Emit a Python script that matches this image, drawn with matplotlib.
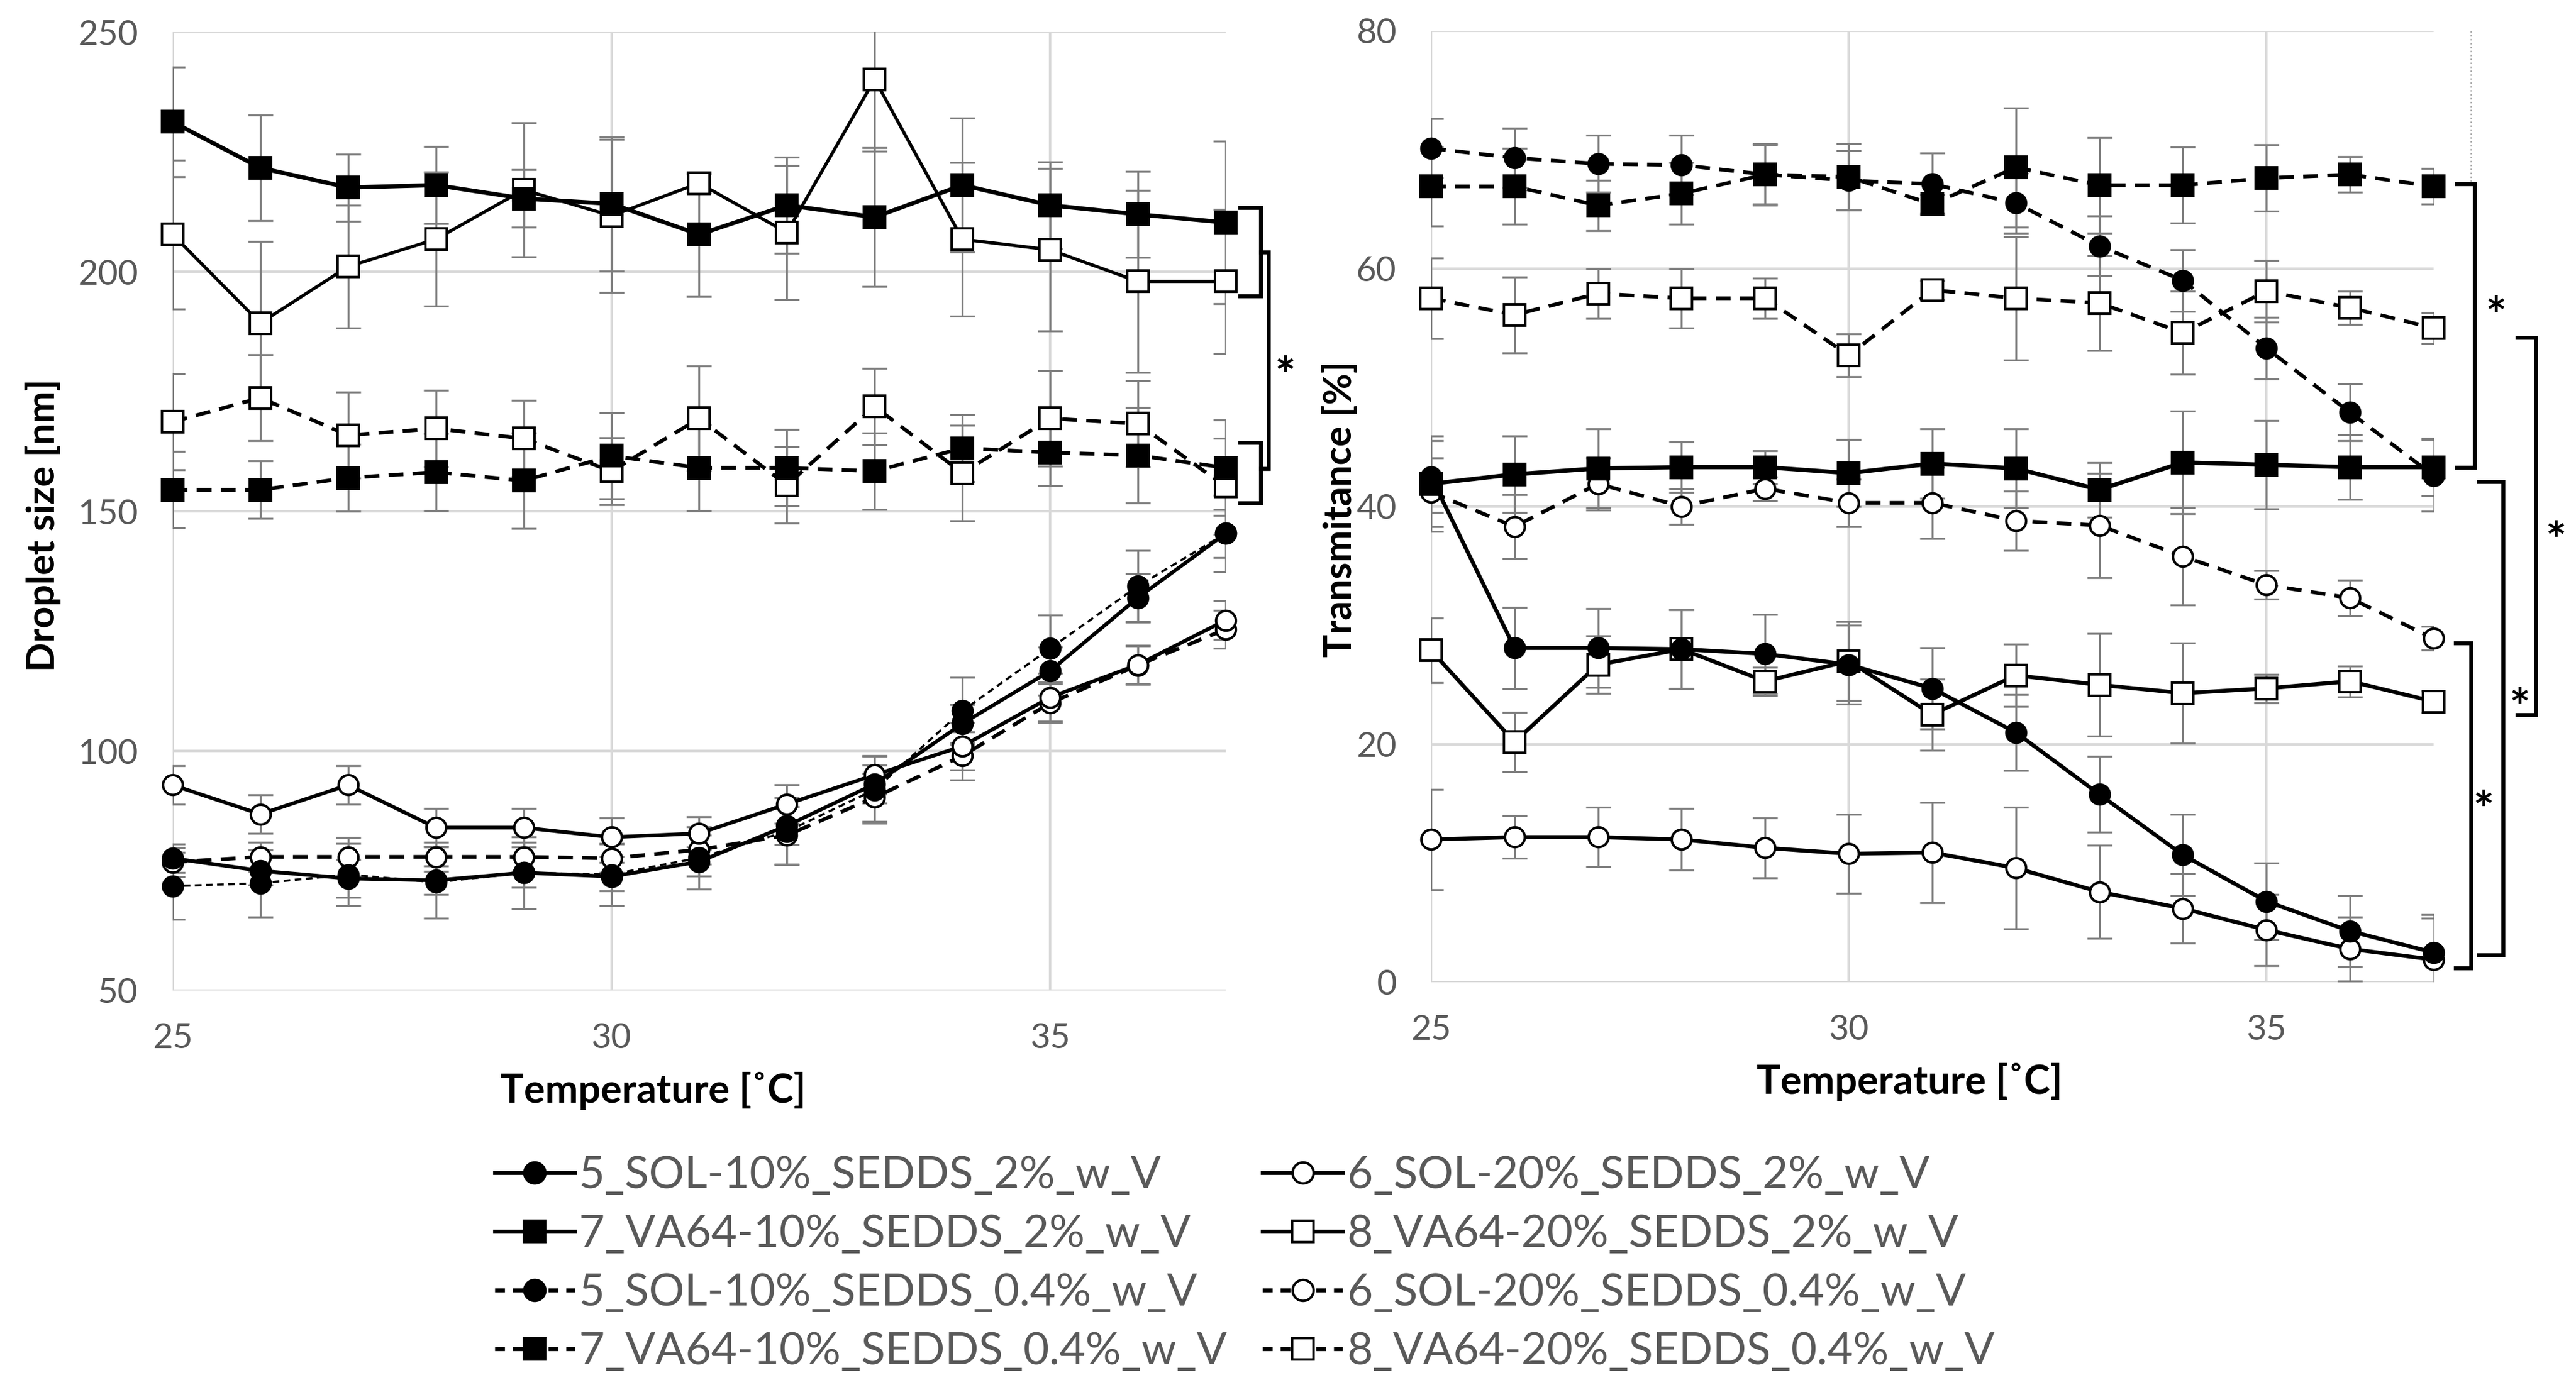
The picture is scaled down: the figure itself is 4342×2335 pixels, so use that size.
import matplotlib
matplotlib.use("Agg")
import matplotlib.pyplot as plt
from matplotlib.lines import Line2D

plt.rcParams['font.family'] = ['Lato', 'DejaVu Sans']

# Data
temps = list(range(25, 38))

# Droplet size [nm]
size_5_2 = [77.6, 75.0, 73.4, 73.0, 74.6, 73.8, 76.9, 84.4, 93.1, 105.7, 116.7, 132.0, 145.4]
size_5_2_err = [3, 3, 4, 3, 3, 3, 3, 4, 4, 4, 5, 5, 5]
size_6_2 = [92.9, 86.8, 92.9, 84.0, 84.0, 82.0, 82.8, 88.9, 95.0, 101.0, 111.2, 118.0, 127.3]
size_6_2_err = [4, 4, 4, 4, 4, 4, 3.5, 4, 4, 5, 5, 4, 4]
size_7_2 = [231.3, 221.7, 217.6, 218.1, 215.3, 214.2, 207.8, 213.9, 211.4, 218.1, 213.9, 212.0, 210.3]
size_7_2_err = [11.5, 11, 7, 8, 6, 14, 13, 10, 14.5, 14, 9, 9, 17]
size_8_2 = [207.8, 189.3, 201.1, 206.8, 217.1, 211.7, 218.5, 208.2, 240.2, 206.8, 204.6, 198.0, 198.0]
size_8_2_err = [15.5, 17, 12.8, 14, 14, 16, 2, 14, 15, 16, 17, 19, 15]
size_5_04 = [71.8, 72.4, 74.2, 72.6, 74.6, 74.2, 77.7, 83.2, 91.9, 108.4, 121.4, 134.4, 145.4]
size_5_04_err = [7, 7, 6.5, 7.5, 7.5, 6.5, 6.5, 7, 7, 7, 7, 7.5, 8]
size_6_04 = [76.8, 77.9, 77.9, 77.9, 77.9, 77.6, 79.4, 82.4, 90.3, 99.0, 110.0, 117.9, 125.4]
size_6_04_err = [3, 3, 4, 3, 3, 3, 3, 6, 5, 5, 4, 4, 4]
size_7_04 = [154.5, 154.5, 157.0, 158.2, 156.4, 161.6, 159.1, 159.1, 158.4, 163.2, 162.3, 161.7, 159.1]
size_7_04_err = [8, 6, 7, 8, 10, 9, 9, 8, 8, 7, 7, 10, 10]
size_8_04 = [168.7, 173.7, 165.9, 167.3, 165.2, 158.4, 169.4, 155.5, 171.9, 158.0, 169.4, 168.3, 155.2]
size_8_04_err = [10, 9, 9, 8, 8, 7, 11, 8, 8, 10, 10, 9, 10]

# Transmitance [%]
trans_5_2 = [42.5, 28.1, 28.1, 28.0, 27.6, 26.7, 24.7, 21.0, 15.8, 10.7, 6.8, 4.3, 2.5]
trans_5_2_err = [3.0, 3.4, 3.3, 3.3, 3.3, 3.3, 3.4, 3.2, 3.2, 3.4, 3.2, 3.0, 3.2]
trans_6_2 = [12.0, 12.2, 12.2, 12.0, 11.3, 10.8, 10.9, 9.6, 7.6, 6.2, 4.4, 2.8, 1.9]
trans_6_2_err = [4.2, 1.8, 2.5, 2.6, 2.5, 3.3, 4.2, 5.1, 3.9, 2.9, 3.0, 2.7, 3.5]
trans_7_2 = [41.9, 42.7, 43.2, 43.3, 43.3, 42.8, 43.6, 43.2, 41.4, 43.7, 43.5, 43.3, 43.3]
trans_7_2_err = [4.0, 3.2, 3.3, 2.1, 1.4, 2.8, 2.9, 3.3, 2.3, 4.3, 3.7, 2.7, 2.4]
trans_8_2 = [27.9, 20.2, 26.7, 28.0, 25.3, 27.0, 22.5, 25.8, 25.0, 24.3, 24.7, 25.3, 23.6]
trans_8_2_err = [2.7, 2.5, 2.4, 3.3, 1.2, 3.3, 3.0, 2.6, 4.3, 4.2, 1.2, 1.3, 0.9]
trans_5_04 = [70.1, 69.3, 68.8, 68.7, 67.9, 67.4, 67.1, 65.5, 61.9, 59.0, 53.3, 47.9, 42.6]
trans_5_04_err = [2.5, 2.5, 2.4, 2.5, 2.6, 2.5, 2.6, 2.5, 2.5, 2.6, 2.6, 2.4, 3.0]
trans_6_04 = [41.2, 38.3, 41.9, 40.0, 41.5, 40.3, 40.3, 38.8, 38.4, 35.8, 33.4, 32.3, 28.9]
trans_6_04_err = [2.9, 2.7, 2.2, 1.5, 1.0, 2.0, 3.0, 2.5, 4.4, 4.1, 1.2, 1.5, 1.0]
trans_7_04 = [66.9, 66.9, 65.3, 66.3, 67.9, 67.7, 65.4, 68.5, 67.0, 67.0, 67.6, 67.9, 66.9]
trans_7_04_err = [3.3, 3.2, 2.1, 2.6, 2.5, 2.8, 0.8, 5.0, 4.0, 3.2, 2.8, 1.5, 1.5]
trans_8_04 = [57.5, 56.1, 57.9, 57.5, 57.5, 52.7, 58.2, 57.5, 57.1, 54.6, 58.1, 56.7, 55.0]
trans_8_04_err = [3.4, 3.2, 2.1, 2.5, 1.7, 1.8, 0.8, 5.2, 4.0, 3.5, 2.6, 1.4, 1.3]

labels = ['5_SOL-10%_SEDDS_2%_w_V', '6_SOL-20%_SEDDS_2%_w_V',
          '7_VA64-10%_SEDDS_2%_w_V', '8_VA64-20%_SEDDS_2%_w_V',
          '5_SOL-10%_SEDDS_0.4%_w_V', '6_SOL-20%_SEDDS_0.4%_w_V',
          '7_VA64-10%_SEDDS_0.4%_w_V', '8_VA64-20%_SEDDS_0.4%_w_V']

TICK_GREY = '#595959'
GRID_GREY = '#d9d9d9'
ERR_GREY = '#7f7f7f'
DASH = (4, 2.5)


def draw_series(ax, y, err, marker, filled, dashed, lw=1.6, dashes=DASH):
    ax.errorbar(temps, y, yerr=err, fmt='none', ecolor=ERR_GREY,
                elinewidth=0.8, capsize=5, capthick=0.8, zorder=2)
    line, = ax.plot(temps, y, color='black', lw=lw, marker=marker,
                    ms=8.5 if marker == 's' else 8,
                    mfc='black' if filled else 'white', mec='black', mew=1.0,
                    clip_on=False, zorder=3)
    if dashed:
        line.set_dashes(dashes)


def bracket(ax, x0, x1, y0, y1):
    ax.plot([x0, x1, x1, x0], [y0, y0, y1, y1], color='black', lw=1.6,
            clip_on=False, solid_joinstyle='miter')


def star(ax, x, y):
    # the asterisk glyph sits high in its box, so nudge it down a bit
    ax.annotate('*', (x, y), xytext=(0, -6.5), textcoords='offset points',
                ha='center', va='center', fontsize=20, fontweight='bold',
                color='black', annotation_clip=False)


def style_axes(ax, ymax, ystep):
    ax.set_xlim(25, 37)
    ax.set_ylim(ymax - 4 * ystep, ymax)
    ax.set_xticks([25, 30, 35])
    ax.set_yticks([ymax - i * ystep for i in range(5)])
    for s in ax.spines.values():
        s.set_visible(False)
    ax.grid(True, color=GRID_GREY, lw=1.0)
    ax.set_axisbelow(True)
    ax.tick_params(length=0, labelsize=14, labelcolor=TICK_GREY)
    ax.tick_params(axis='y', pad=14)
    ax.tick_params(axis='x', pad=13)


fig = plt.figure(figsize=(4342 / 300, 2335 / 300), dpi=300)
ax1 = fig.add_axes([0.0670, 0.2848, 0.4088, 0.6919])
ax2 = fig.add_axes([0.5555, 0.2908, 0.3892, 0.6871])

# left: droplet size
style_axes(ax1, 250, 50)
draw_series(ax1, size_8_04, size_8_04_err, 's', False, True, lw=1.5)
draw_series(ax1, size_7_04, size_7_04_err, 's', True, True, lw=1.5)
draw_series(ax1, size_8_2, size_8_2_err, 's', False, False, lw=1.3)
draw_series(ax1, size_7_2, size_7_2_err, 's', True, False, lw=1.7)
draw_series(ax1, size_6_04, size_6_04_err, 'o', False, True, lw=1.5)
draw_series(ax1, size_5_04, size_5_04_err, 'o', True, True, lw=0.9, dashes=(3, 2))
draw_series(ax1, size_6_2, size_6_2_err, 'o', False, False, lw=1.5)
draw_series(ax1, size_5_2, size_5_2_err, 'o', True, False, lw=1.5)
ax1.set_ylabel('Droplet size [nm]', fontweight='bold', fontsize=15.5)
ax1.yaxis.set_label_coords(-0.106, 0.486)
ax1.set_xlabel('Temperature [˚C]', fontweight='bold', fontsize=16)
ax1.xaxis.set_label_coords(0.456, -0.085)

bracket(ax1, 37.16, 37.40, 213.4, 195.0)
bracket(ax1, 37.16, 37.40, 164.4, 151.8)
bracket(ax1, 37.40, 37.49, 204.1, 158.9)
star(ax1, 37.68, 181.1)

# right: transmitance
style_axes(ax2, 80, 20)
draw_series(ax2, trans_8_04, trans_8_04_err, 's', False, True, lw=1.5)
draw_series(ax2, trans_7_04, trans_7_04_err, 's', True, True, lw=1.5)
draw_series(ax2, trans_6_04, trans_6_04_err, 'o', False, True, lw=1.5)
draw_series(ax2, trans_5_04, trans_5_04_err, 'o', True, True, lw=1.5)
draw_series(ax2, trans_8_2, trans_8_2_err, 's', False, False, lw=1.6)
draw_series(ax2, trans_7_2, trans_7_2_err, 's', True, False, lw=1.7)
draw_series(ax2, trans_6_2, trans_6_2_err, 'o', False, False, lw=1.6)
draw_series(ax2, trans_5_2, trans_5_2_err, 'o', True, False, lw=1.6)
ax2.set_ylabel('Transmitance [%]', fontweight='bold', fontsize=15.5)
ax2.yaxis.set_label_coords(-0.073, 0.497)
ax2.set_xlabel('Temperature [˚C]', fontweight='bold', fontsize=16)
ax2.xaxis.set_label_coords(0.4775, -0.085)

ax2.plot([37.45, 37.45], [80, 67.1], color='#a6a6a6', lw=0.6, ls=':', clip_on=False)
bracket(ax2, 37.28, 37.49, 67.1, 43.3)
star(ax2, 37.75, 57.1)
bracket(ax2, 38.00, 38.22, 54.2, 22.5)
star(ax2, 38.47, 38.2)
bracket(ax2, 37.54, 37.83, 42.1, 2.3)
star(ax2, 38.03, 24.2)
bracket(ax2, 37.26, 37.45, 28.5, 1.2)
star(ax2, 37.60, 15.6)

# legend (column-wise order for two columns)
styles = [('o', True, False), ('o', False, False), ('s', True, False), ('s', False, False),
          ('o', True, True), ('o', False, True), ('s', True, True), ('s', False, True)]
handles = []
for marker, filled, dashed in styles:
    h = Line2D([], [], color='black', lw=1.6, marker=marker, ms=8.5,
               mfc='black' if filled else 'white', mec='black', mew=1.0)
    if dashed:
        h.set_dashes((2.5, 2))
    handles.append(h)
order = [0, 2, 4, 6, 1, 3, 5, 7]
leg = fig.legend([handles[i] for i in order], [labels[i] for i in order],
                 loc='upper left', bbox_to_anchor=(0.192, 0.166), ncol=2,
                 frameon=False, fontsize=18, handlelength=1.8, handletextpad=0.1,
                 labelspacing=0.4, columnspacing=0.8, borderaxespad=0, borderpad=0)
for t in leg.get_texts():
    t.set_color(TICK_GREY)

fig.savefig('out.png', dpi=300)
